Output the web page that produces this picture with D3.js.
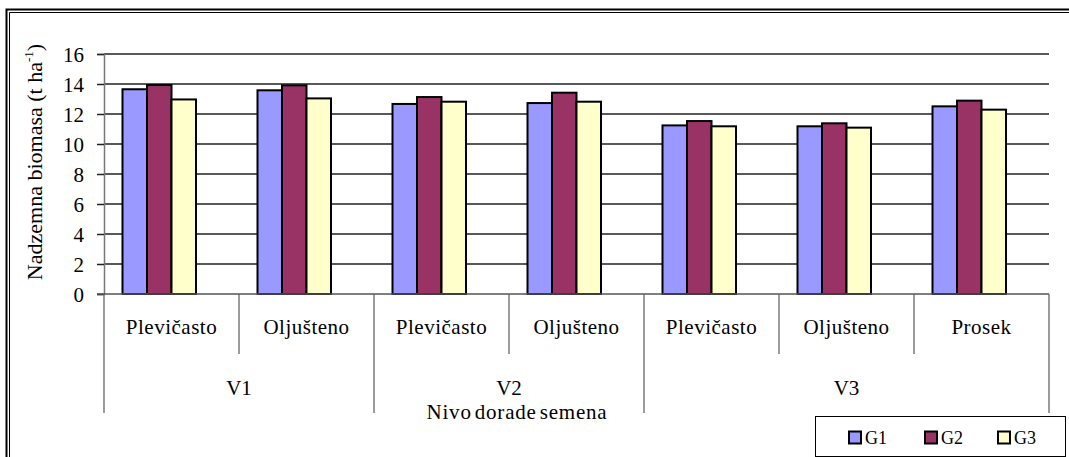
<!DOCTYPE html>
<html>
<head>
<meta charset="utf-8">
<script src="https://cdn.jsdelivr.net/npm/d3@7"></script>
<style>
  html, body { margin: 0; padding: 0; background: #fff; }
  svg { display: block; }
</style>
</head>
<body>
<svg id="chart" width="1069" height="457"></svg>
<script>
// Nadzemna biomasa po nivou dorade semena
const categories = ["Plevičasto", "Oljušteno", "Plevičasto", "Oljušteno", "Plevičasto", "Oljušteno", "Prosek"];
const categoryGroup = ["V1", "V1", "V2", "V2", "V3", "V3", "V3"];
const seriesNames = ["G1", "G2", "G3"];
const g1 = [13.65, 13.58, 12.67, 12.73, 11.24, 11.18, 12.51];
const g2 = [13.93, 13.91, 13.13, 13.42, 11.53, 11.38, 12.89];
const g3 = [12.97, 13.04, 12.82, 12.82, 11.18, 11.09, 12.29];
const yTicks = [0, 2, 4, 6, 8, 10, 12, 14, 16];
const colors = ["#9999FF", "#993366", "#FFFFCC"];

const FONT = "'Liberation Serif', 'Times New Roman', 'DejaVu Serif', serif";
const series = [g1, g2, g3];
const svg = d3.select("#chart");

const plot = { left: 104, right: 1049, top: 54, bottom: 294 };

const x = d3.scaleBand()
  .domain(d3.range(categories.length))
  .range([plot.left, plot.right])
  .paddingInner(0).paddingOuter(0);

const y = d3.scaleLinear().domain([0, 16]).range([plot.bottom, plot.top]);

function txt(sel) {
  return sel.style("font-family", FONT).attr("fill", "#000");
}

// outer frame (double rule top and left)
svg.append("path").attr("d", "M6.5,457 V9.5 H1069").attr("fill", "none").attr("stroke", "#000").attr("stroke-width", 2);
svg.append("path").attr("d", "M9.5,457 V12.5 H1069").attr("fill", "none").attr("stroke", "#000").attr("stroke-width", 1);

// horizontal gridlines
svg.append("g").selectAll("line").data(yTicks.filter(d => d > 0)).join("line")
  .attr("x1", plot.left).attr("x2", plot.right)
  .attr("y1", d => y(d)).attr("y2", d => y(d))
  .attr("stroke", "#222").attr("stroke-width", 1.5);

// y axis
const yAxis = svg.append("g")
  .attr("transform", `translate(${plot.left},0)`)
  .call(d3.axisLeft(y).tickValues(yTicks).tickSize(7).tickPadding(13).tickFormat(d3.format("d")));
yAxis.select(".domain").attr("stroke", "#777").attr("stroke-width", 1.5);
yAxis.selectAll(".tick line").attr("stroke", "#222").attr("stroke-width", 1.5);
txt(yAxis.selectAll(".tick text")).style("font-size", "21px").attr("dy", "0.34em");

// y axis title
const yt = txt(svg.append("text"))
  .attr("transform", `translate(42,${162}) rotate(-90)`)
  .attr("text-anchor", "middle")
  .style("font-size", "22px");
yt.append("tspan").text("Nadzemna biomasa (t ha");
yt.append("tspan").text("-1").style("font-size", "13px").attr("dy", -9);
yt.append("tspan").text(")").attr("dy", 9);

// bars
const barOffset = 18.5, barWidth = 24.5;
series.forEach((vals, si) => {
  svg.append("g").selectAll("rect").data(vals).join("rect")
    .attr("x", (d, i) => x(i) + barOffset + si * barWidth)
    .attr("width", barWidth)
    .attr("y", d => y(d))
    .attr("height", d => y(0) - y(d))
    .attr("fill", colors[si])
    .attr("stroke", "#000").attr("stroke-width", 2);
});

// category axis line
svg.append("line").attr("x1", plot.left - 7).attr("x2", plot.right)
  .attr("y1", y(0)).attr("y2", y(0)).attr("stroke", "#555").attr("stroke-width", 1.5);

// category separators: inner ones short, group boundaries long
const sepInner = 354, sepOuter = 413;
const bounds = d3.range(categories.length + 1).map(i => {
  const isGroupEdge = i === 0 || i === categories.length || categoryGroup[i] !== categoryGroup[i - 1];
  return { x: i < categories.length ? x(i) : plot.right, edge: isGroupEdge };
});
svg.append("g").selectAll("line").data(bounds).join("line")
  .attr("x1", d => d.x).attr("x2", d => d.x)
  .attr("y1", y(0)).attr("y2", d => d.edge ? sepOuter : sepInner)
  .attr("stroke", "#666").attr("stroke-width", 1.3);

// category labels
txt(svg.append("g").selectAll("text").data(categories).join("text"))
  .attr("x", (d, i) => x(i) + x.bandwidth() / 2)
  .attr("y", 334)
  .attr("text-anchor", "middle")
  .style("font-size", "21px")
  .attr("letter-spacing", 0.5)
  .text(d => d);

// group labels
const groups = Array.from(new Set(categoryGroup));
txt(svg.append("g").selectAll("text").data(groups).join("text"))
  .attr("x", g => {
    const idx = categoryGroup.map((c, i) => c === g ? i : -1).filter(i => i >= 0);
    return (x(idx[0]) + x(idx[idx.length - 1]) + x.bandwidth()) / 2;
  })
  .attr("y", 395)
  .attr("text-anchor", "middle")
  .style("font-size", "21px")
  .text(g => g);

// x axis title
txt(svg.append("text")).attr("x", 517).attr("y", 419)
  .attr("text-anchor", "middle").style("font-size", "21px")
  .attr("letter-spacing", 0.8).attr("word-spacing", -3)
  .text("Nivo dorade semena");

// legend
const legend = svg.append("g");
legend.append("rect").attr("x", 815.5).attr("y", 416.5).attr("width", 250).attr("height", 40)
  .attr("fill", "#fff").attr("stroke", "#000").attr("stroke-width", 1);
const legendX = [849, 925, 998];
seriesNames.forEach((name, i) => {
  legend.append("rect").attr("x", legendX[i]).attr("y", 431.5).attr("width", 12).attr("height", 12)
    .attr("fill", colors[i]).attr("stroke", "#000").attr("stroke-width", 2);
  txt(legend.append("text")).attr("x", legendX[i] + 16).attr("y", 444)
    .style("font-size", "18px").text(name);
});
</script>
</body>
</html>
